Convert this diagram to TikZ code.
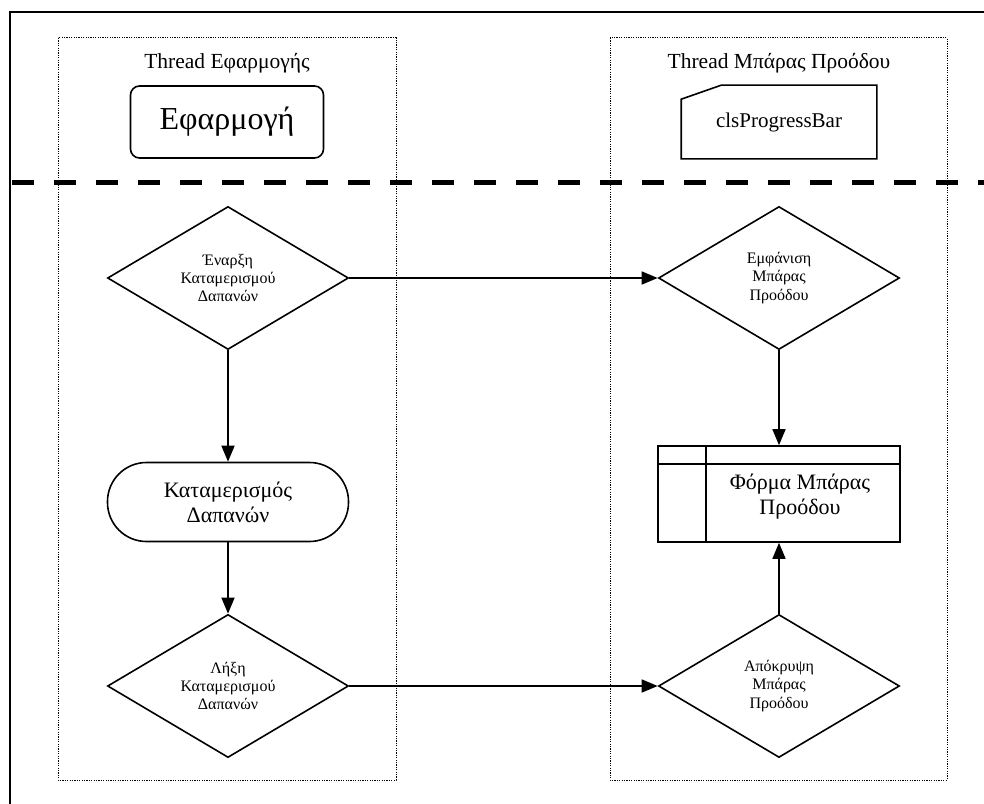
\documentclass[tikz,border=0pt]{standalone}
\usepackage{fontspec}
\setmainfont{Liberation Serif}
\usepackage{tikz}
\usetikzlibrary{arrows.meta,shapes.geometric}
\tikzset{
  pb diagram/.style={x=1bp, y=-1bp, line width=1.6bp,
    line cap=butt, line join=miter},
  pb lane/.style={draw, line width=1bp, dash pattern=on 1.2bp off 1.2bp},
  pb split/.style={draw, line width=5bp, dash pattern=on 22bp off 20bp},
  pb title/.style={font=\fontsize{21.5bp}{24bp}\selectfont},
  pb app/.style={draw, rounded corners=9bp, minimum width=193bp,
    minimum height=72bp, font=\fontsize{32bp}{36bp}\selectfont},
  pb class/.style={minimum width=194bp, minimum height=72bp,
    font=\fontsize{21bp}{24bp}\selectfont},
  pb decision/.style={draw, diamond, inner sep=0pt, minimum width=241bp,
    minimum height=143bp, align=center,
    font=\fontsize{16bp}{18.4bp}\selectfont},
  pb terminal/.style={draw, rounded corners=39bp, minimum width=241bp,
    minimum height=79bp, align=center,
    font=\fontsize{22bp}{25bp}\selectfont},
  pb form/.style={draw, minimum width=242bp, minimum height=96bp,
    path picture={
      \draw ([yshift=-18bp]path picture bounding box.north west)
        -- ([yshift=-18bp]path picture bounding box.north east);
      \draw ([xshift=48bp]path picture bounding box.north west)
        -- ([xshift=48bp]path picture bounding box.south west);
    }},
  pb form text/.style={align=center, font=\fontsize{22bp}{25bp}\selectfont},
  pb arrow/.style={-{Triangle[length=16bp, width=13bp]}}
}
\begin{document}
\begin{tikzpicture}[pb diagram]
\useasboundingbox (0,0) rectangle (984,804);
% frame and thread lanes
\draw (10,804) -- (10,12) -- (984,12);
\draw[pb lane] (58,38) rectangle (396,780);
\draw[pb lane] (610,38) rectangle (947,780);
\draw[pb split] (12,182) -- (984,182);
\node[pb title] (apptitle) at (227,63) {Thread Εφαρμογής};
\node[pb title] (bartitle) at (779,63) {Thread Μπάρας Προόδου};
% thread owners
\node[pb app] (app) at (227,122) {Εφαρμογή};
\node[pb class] (cls) at (779,122) {clsProgressBar};
\draw (cls.south west) -- ([yshift=-14bp]cls.north west)
  -- ([xshift=40bp]cls.north west) -- (cls.north east)
  -- (cls.south east) -- cycle;
% application thread
\node[pb decision] (start) at (228,278) {Έναρξη\\Καταμερισμού\\Δαπανών};
\node[pb terminal] (alloc) at (228,502) {Καταμερισμός\\Δαπανών};
\node[pb decision] (finish) at (228,686) {Λήξη\\Καταμερισμού\\Δαπανών};
% progress bar thread
\node[pb decision] (show) at (779,278) {Εμφάνιση\\Μπάρας\\Προόδου};
\node[pb form] (form) at (779,494) {};
\node[pb form text] (formtext) at (800,497) {Φόρμα Μπάρας\\Προόδου};
\node[pb decision] (hide) at (779,686) {Απόκρυψη\\Μπάρας\\Προόδου};
% connectors
\draw[pb arrow] (start) -- (show);
\draw[pb arrow] (start) -- (alloc);
\draw[pb arrow] (alloc) -- (finish);
\draw[pb arrow] (finish) -- (hide);
\draw[pb arrow] (show) -- (form);
\draw[pb arrow] (hide) -- (form);
\end{tikzpicture}
\end{document}
